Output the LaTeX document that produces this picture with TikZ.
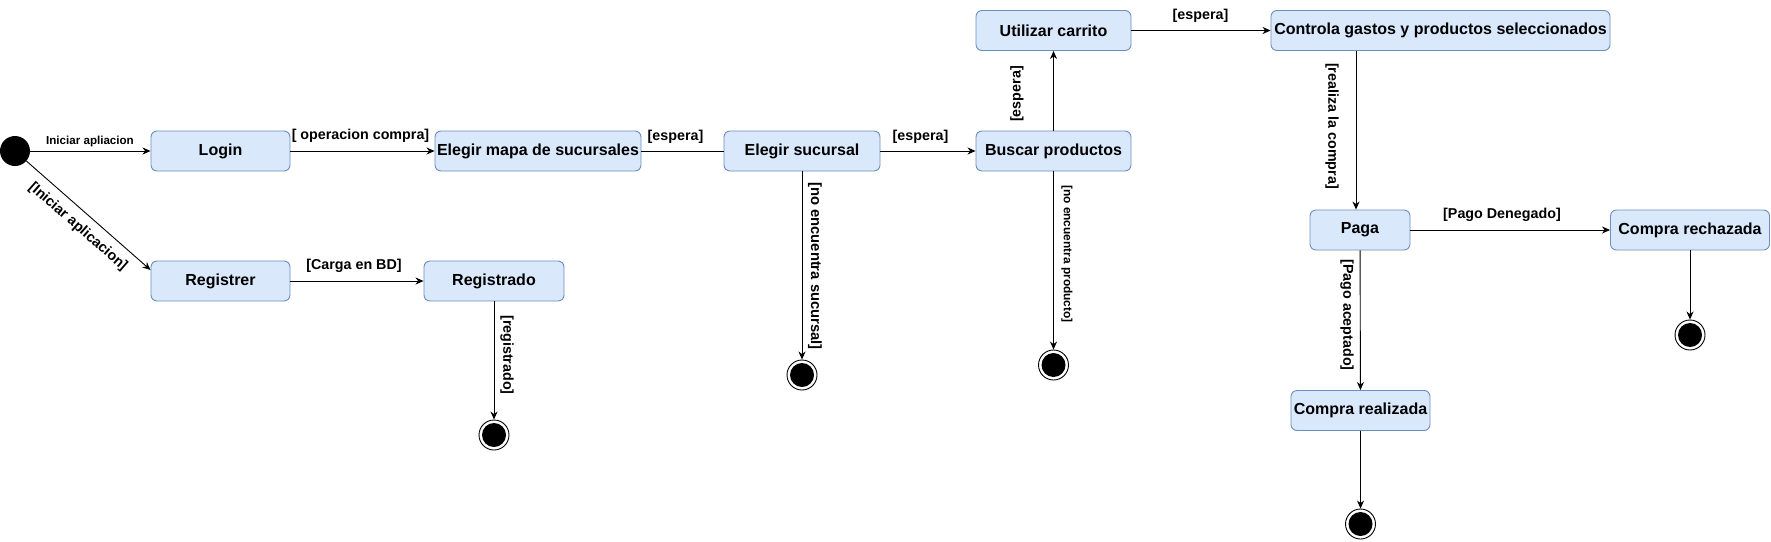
\documentclass[tikz,border=0pt]{standalone}
\usepackage{fontspec}
\setmainfont{Liberation Sans}
\usetikzlibrary{arrows.meta,calc}
\definecolor{boxfill}{HTML}{DAE8FC}
\definecolor{boxdraw}{HTML}{6C8EBF}
\begin{document}
\begin{tikzpicture}[x=1pt,y=-1pt,
 state/.style={draw=boxdraw, fill=boxfill, rounded corners=6pt, line width=0.9pt, minimum height=40pt, inner sep=0pt, font=\fontsize{16}{19}\selectfont\bfseries},
 lbl/.style={inner sep=0pt, font=\fontsize{14.3}{17}\selectfont\bfseries},
 arr/.style={-{Stealth[length=8pt,width=7pt,inset=2.5pt]}, line width=0.9pt},
 ln/.style={line width=0.9pt},
 startst/.style={circle, fill=black, minimum size=30pt, inner sep=0pt},
 endst/.style={circle, draw=black, fill=white, line width=0.9pt, minimum size=30pt, inner sep=0pt, path picture={\fill[black] (path picture bounding box.center) circle (12pt);}},
]
\useasboundingbox (0,0) rectangle (1771,541);

% states
\node[startst] (init) at (15,151) {};
\node[state, minimum width=139pt] (login) at (220.5,151) {Login};
\node[state, minimum width=206pt] (mapa) at (538,151) {Elegir mapa de sucursales};
\node[state, minimum width=156pt] (sucursal) at (802,151) {Elegir sucursal};
\node[state, minimum width=155pt] (buscar) at (1053.5,151) {Buscar productos};
\node[state, minimum width=155pt] (carrito) at (1053.5,30.5) {Utilizar carrito};
\node[state, minimum width=339pt] (controla) at (1440.5,30.5) {Controla gastos y productos seleccionados};
\node[state, minimum width=100pt] (paga) at (1360,230) {Paga};
\node[state, minimum width=159pt] (rechazada) at (1690,230) {Compra rechazada};
\node[state, minimum width=139pt] (realizada) at (1360.5,410.5) {Compra realizada};
\node[state, minimum width=139pt] (registrer) at (220.5,281) {Registrer};
\node[state, minimum width=140pt] (registrado) at (494,281) {Registrado};

% final states
\node[endst] (endreg) at (494,435) {};
\node[endst] (endsuc) at (802,375) {};
\node[endst] (endbus) at (1053.5,365) {};
\node[endst] (endrech) at (1690,335) {};
\node[endst] (endreal) at (1360.5,524) {};

% connectors
\draw[arr] (init) -- (login);
\draw[arr] (init) -- ($(registrer.west)+(0,-11)$);
\draw[arr] (login) -- (mapa);
\draw[ln] (mapa) -- (sucursal);
\draw[arr] (sucursal) -- (buscar);
\draw[arr] (buscar) -- (carrito);
\draw[arr] (carrito) -- (controla);
\draw[arr] ([xshift=-4pt]paga.north |- controla.south) -- ([xshift=-4pt]paga.north);
\draw[arr] (paga) -- (rechazada);
\draw[arr] (paga) -- (realizada);
\draw[arr] (rechazada) -- (endrech);
\draw[arr] (realizada) -- (endreal);
\draw[arr] (registrer) -- (registrado);
\draw[arr] (registrado) -- (endreg);
\draw[arr] (sucursal) -- (endsuc);
\draw[arr] (buscar) -- (endbus);

% labels
\node[lbl, font=\fontsize{11.6}{14}\selectfont\bfseries] (l1) at (90,141) {Iniciar apliacion};
\node[lbl, rotate=-41.2] (l2) at (78,227) {[Iniciar aplicacion]};
\node[lbl] (l3) at (360.5,136) {[ operacion compra]};
\node[lbl] (l4) at (675.5,137) {[espera]};
\node[lbl] (l5) at (920.5,137) {[espera]};
\node[lbl, rotate=90] (l6) at (1017,94) {[espera]};
\node[lbl] (l7) at (1200.5,16) {[espera]};
\node[lbl, rotate=-90] (l8) at (1332,126) {[realiza la compra]};
\node[lbl] (l9) at (1502,215) {[Pago Denegado]};
\node[lbl, rotate=-90] (l10) at (1347,315) {[Pago aceptado]};
\node[lbl] (l11) at (354,266) {[Carga en BD]};
\node[lbl, rotate=-90] (l12) at (507,355) {[registrado]};
\node[lbl, rotate=-90, font=\fontsize{14.8}{17}\selectfont\bfseries] (l13) at (815,266) {[no encuentra sucursal]};
\node[lbl, rotate=-90, font=\fontsize{11.9}{14}\selectfont\bfseries] (l14) at (1067,254) {[no encuentra producto]};
\end{tikzpicture}
\end{document}
